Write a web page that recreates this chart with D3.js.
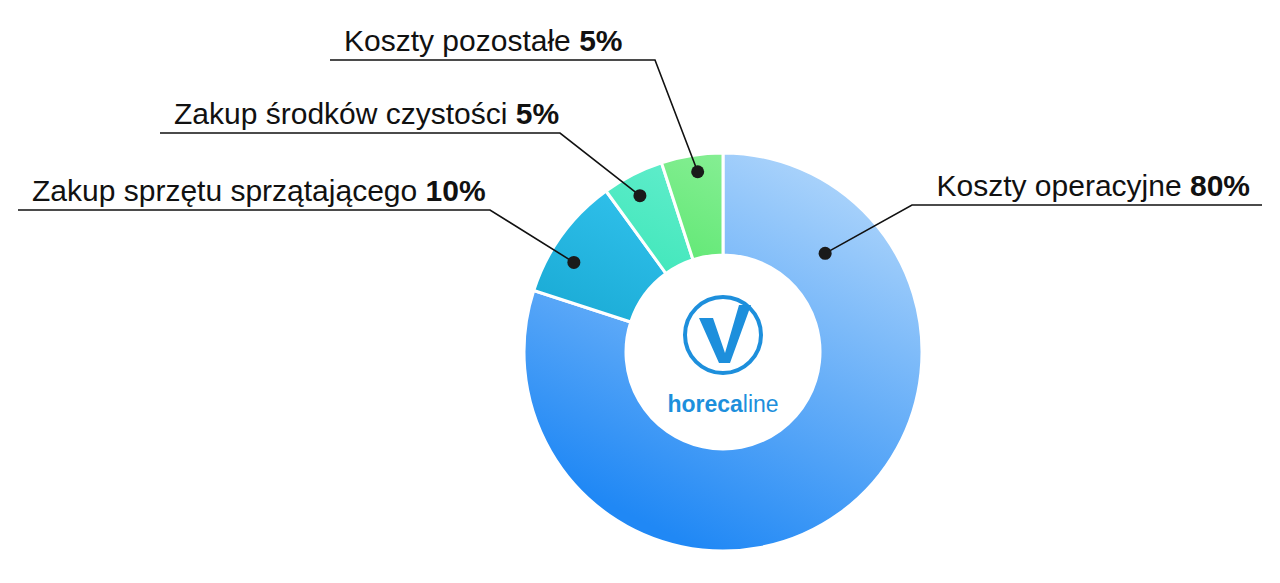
<!DOCTYPE html>
<html><head><meta charset="utf-8">
<script src="https://cdn.jsdelivr.net/npm/d3@7"></script>
<style>body{margin:0;background:#fff}</style></head>
<body><svg id="c" width="1280" height="583"></svg>
<script>
const labels = ["Koszty operacyjne","Zakup sprzętu sprzątającego","Zakup środków czystości","Koszty pozostałe"];
const values = [80,10,5,5];
const pctLabels = ["80%","10%","5%","5%"];
const gradStops = [["#2088f5","#acd4fb"],["#0596c0","#40d0fb"],["#08dc9c","#70f0d4"],["#18dc38","#90f09c"]];
const labelLines = [ // dot angle (deg), dot radius, elbow, horizontal end
  {ang:46,rad:142,ex:912,ey:205,hx:1262,anchor:"end"},
  {ang:301,rad:174,ex:490,ey:210,hx:18,anchor:"start"},
  {ang:332,rad:177,ex:560,ey:133,hx:160,anchor:"start"},
  {ang:352,rad:182,ex:655,ey:60,hx:330,anchor:"start"}];

const svg=d3.select("#c");
const cx=723, cy=352, R=199, r0=97;
const defs=svg.append("defs");
gradStops.forEach((g,i)=>{
  const lg=defs.append("linearGradient").attr("id","g"+i).attr("gradientUnits","userSpaceOnUse")
   .attr("x1",cx-R*0.4).attr("y1",cy+R*0.9).attr("x2",cx+R*0.5).attr("y2",cy-R*0.9);
  lg.append("stop").attr("offset",0).attr("stop-color",g[0]);
  lg.append("stop").attr("offset",1).attr("stop-color",g[1]);
});
const pie=d3.pie().sort(null).value(d=>d);
const arcs=pie(values);
const arc=d3.arc().innerRadius(r0).outerRadius(R);
const g=svg.append("g").attr("transform",`translate(${cx},${cy})`);
g.selectAll("path").data(arcs).join("path").attr("d",arc)
 .attr("fill",(d,i)=>`url(#g${i})`).attr("stroke","#fff").attr("stroke-width",3);
arcs.forEach((a,i)=>{
  const L=labelLines[i]; const t0=L.ang*Math.PI/180;
  const x=cx+L.rad*Math.sin(t0), y=cy-L.rad*Math.cos(t0);
  svg.append("polyline").attr("points",`${x},${y} ${L.ex},${L.ey} ${L.hx},${L.ey}`)
   .attr("fill","none").attr("stroke","#111").attr("stroke-width",1.6);
  svg.append("circle").attr("cx",x).attr("cy",y).attr("r",6.5).attr("fill","#1a1a1a");
  const t=svg.append("text").attr("font-family","Liberation Sans, Arial, sans-serif").attr("font-size",30)
   .attr("fill","#111").attr("y",L.ey-9);
  if(L.anchor==="end"){t.attr("x",L.hx-12).attr("text-anchor","end");}
  else {t.attr("x",L.hx+14);}
  t.append("tspan").text(labels[i]+" ");
  t.append("tspan").attr("font-weight","bold").text(pctLabels[i]);
});
// logo
const blue="#1d8fdc";
svg.append("circle").attr("cx",cx).attr("cy",335).attr("r",38).attr("fill","none").attr("stroke",blue).attr("stroke-width",4);
svg.append("path").attr("d",`M${cx-24},${335-17} L${cx-10},${335-17} L${cx+2},${335+18} L${cx+16},${335-30} L${cx+28},${335-30} L${cx+7},${335+28} L${cx-4},${335+28} Z`).attr("fill",blue);
const lt=svg.append("text").attr("x",cx).attr("y",412).attr("text-anchor","middle").attr("font-family","Liberation Sans, Arial, sans-serif").attr("font-size",23).attr("fill",blue);
lt.append("tspan").attr("font-weight","bold").text("horeca");
lt.append("tspan").text("line");
</script></body></html>
